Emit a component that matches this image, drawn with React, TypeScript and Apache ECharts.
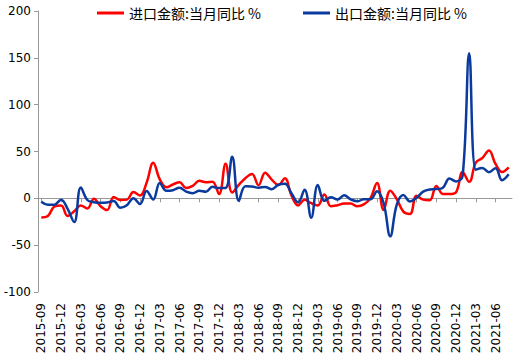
import React, { useEffect, useRef } from "react";
import * as echarts from "echarts";

const months: string[] = [
  "2015-09", "2015-10", "2015-11", "2015-12",
  "2016-01", "2016-02", "2016-03", "2016-04", "2016-05", "2016-06", "2016-07", "2016-08", "2016-09", "2016-10", "2016-11", "2016-12",
  "2017-01", "2017-02", "2017-03", "2017-04", "2017-05", "2017-06", "2017-07", "2017-08", "2017-09", "2017-10", "2017-11", "2017-12",
  "2018-01", "2018-02", "2018-03", "2018-04", "2018-05", "2018-06", "2018-07", "2018-08", "2018-09", "2018-10", "2018-11", "2018-12",
  "2019-01", "2019-02", "2019-03", "2019-04", "2019-05", "2019-06", "2019-07", "2019-08", "2019-09", "2019-10", "2019-11", "2019-12",
  "2020-01", "2020-02", "2020-03", "2020-04", "2020-05", "2020-06", "2020-07", "2020-08", "2020-09", "2020-10", "2020-11", "2020-12",
  "2021-01", "2021-02", "2021-03", "2021-04", "2021-05", "2021-06", "2021-07", "2021-08",
];

const importYoY: number[] = [
  -20.4, -18.8, -8.7, -7.6,
  -18.8, -13.8, -7.6, -10.9, -0.4, -8.4, -12.5, 1.5, -1.9, -1.4, 6.7, 3.1,
  16.7, 38.1, 20.3, 11.9, 14.8, 17.2, 11.0, 13.3, 18.7, 17.2, 17.7, 4.5,
  36.9, 6.3, 14.4, 21.5, 26.0, 14.1, 27.3, 20.0, 14.3, 21.4, 3.0, -7.6,
  -1.5, -5.2, -7.6, 4.0, -8.5, -7.3, -5.6, -5.6, -8.5, -6.4, 0.3, 16.3,
  -12.5, 8.0, -0.9, -14.2, -16.7, 2.7, -1.4, -2.1, 13.2, 4.7, 4.5, 6.5,
  28.0, 17.5, 38.1, 43.1, 51.1, 36.7, 28.1, 33.1,
];

const exportYoY: number[] = [
  -3.7, -6.9, -6.8, -1.4,
  -11.2, -25.4, 11.5, -1.8, -4.1, -4.8, -4.4, -2.8, -10.0, -7.3, 0.1, -6.1,
  7.9, -1.3, 16.4, 8.0, 8.7, 11.3, 7.2, 5.5, 8.1, 6.9, 12.3, 10.9,
  11.1, 44.5, -2.7, 12.9, 12.6, 11.3, 12.2, 9.8, 14.5, 15.6, 5.4, -4.4,
  9.1, -20.7, 14.2, -2.7, 1.1, -1.3, 3.3, -1.0, -3.2, -0.9, -1.1, 7.6,
  -5.0, -40.6, -6.6, 3.5, -3.3, 0.5, 7.2, 9.5, 9.9, 11.4, 21.1, 18.1,
  24.0, 154.9, 30.6, 32.3, 27.9, 32.2, 19.3, 25.6,
];

const seriesNames = ["进口金额:当月同比 %", "出口金额:当月同比 %"];
const seriesColors = ["#FF0000", "#0A3A9E"];

export default function App() {
  const ref = useRef<HTMLDivElement>(null);
  useEffect(() => {
    if (!ref.current) return;
    const chart = echarts.init(ref.current, null, { renderer: "svg" });
    const legendText = {
      fontFamily: "'Noto Sans CJK SC', sans-serif",
      fontSize: 14,
      color: "#000",
    };
    chart.setOption({
      animation: false,
      backgroundColor: "#fff",
      grid: { left: 38, right: 6, top: 11, bottom: 68, containLabel: false },
      legend: [
        {
          data: [seriesNames[0]],
          left: 97,
          top: 6,
          padding: 0,
          icon: "rect",
          itemWidth: 27,
          itemHeight: 3,
          itemGap: 4,
          textStyle: legendText,
        },
        {
          data: [seriesNames[1]],
          left: 303,
          top: 6,
          padding: 0,
          icon: "rect",
          itemWidth: 27,
          itemHeight: 3,
          itemGap: 4,
          textStyle: legendText,
        },
      ],
      xAxis: [
        {
          type: "category",
          data: months,
          boundaryGap: true,
          position: "bottom",
          axisLine: { onZero: true, lineStyle: { color: "#999999", width: 1 } },
          axisTick: {
            show: true,
            interval: 2,
            alignWithLabel: true,
            length: 4,
            lineStyle: { color: "#999999" },
          },
          axisLabel: { show: false, interval: 2 },
          splitLine: { show: false },
        },
        {
          type: "category",
          data: months,
          boundaryGap: true,
          position: "bottom",
          axisLine: { show: false, onZero: false },
          axisTick: { show: false },
          axisLabel: {
            interval: 2,
            rotate: 90,
            margin: 11,
            fontFamily: "'DejaVu Sans', sans-serif",
            fontSize: 12,
            color: "#000",
          },
          splitLine: { show: false },
        },
      ],
      yAxis: {
        type: "value",
        min: -100,
        max: 200,
        interval: 50,
        axisLine: { show: true, lineStyle: { color: "#999999" } },
        axisTick: { show: true, length: 4, lineStyle: { color: "#999999" } },
        axisLabel: {
          margin: 7,
          fontFamily: "'DejaVu Sans', sans-serif",
          fontSize: 12,
          color: "#000",
        },
        splitLine: { show: false },
      },
      series: [
        {
          name: seriesNames[0],
          type: "line",
          xAxisIndex: 0,
          data: importYoY,
          smooth: 0.4,
          showSymbol: false,
          symbol: "none",
          color: seriesColors[0],
          lineStyle: { color: seriesColors[0], width: 2.5 },
          z: 2,
        },
        {
          name: seriesNames[1],
          type: "line",
          xAxisIndex: 0,
          data: exportYoY,
          smooth: 0.4,
          showSymbol: false,
          symbol: "none",
          color: seriesColors[1],
          lineStyle: { color: seriesColors[1], width: 2.5 },
          z: 3,
        },
      ],
    });
    return () => chart.dispose();
  }, []);
  return (
    <div
      ref={ref}
      style={{ position: "absolute", left: 0, top: 0, width: 518, height: 360 }}
    />
  );
}
